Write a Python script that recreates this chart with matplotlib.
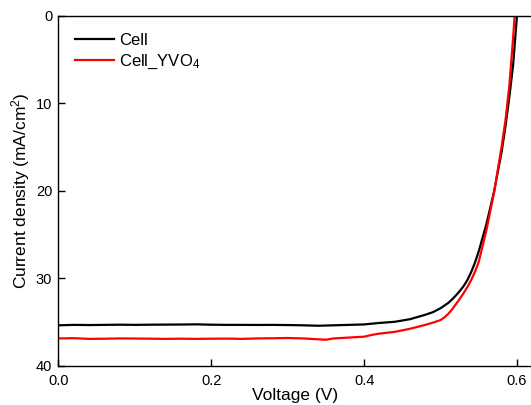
import matplotlib
matplotlib.use('Agg')
import matplotlib.pyplot as plt

plt.rcParams['font.family'] = ['Liberation Sans', 'DejaVu Sans']
plt.rcParams['mathtext.fontset'] = 'custom'
plt.rcParams['mathtext.rm'] = 'Liberation Sans'
plt.rcParams['mathtext.it'] = 'Liberation Sans'

# J-V data (voltage in V, current density in mA/cm2)
v_cell = [0.00, 0.02, 0.04, 0.06, 0.08, 0.10, 0.12, 0.14, 0.16, 0.18,
          0.20, 0.22, 0.24, 0.26, 0.28, 0.30, 0.32, 0.34, 0.36, 0.38,
          0.40, 0.42, 0.44, 0.46, 0.48, 0.49, 0.50, 0.505, 0.51, 0.515,
          0.52, 0.525, 0.53, 0.535, 0.54, 0.545, 0.55, 0.56, 0.57, 0.58,
          0.585, 0.59, 0.595, 0.600, 0.603]
j_cell = [35.35, 35.30, 35.32, 35.30, 35.28, 35.30, 35.28, 35.27, 35.26, 35.24,
          35.28, 35.30, 35.30, 35.31, 35.30, 35.32, 35.35, 35.40, 35.35, 35.30,
          35.25, 35.08, 34.95, 34.65, 34.15, 33.85, 33.40, 33.10, 32.80, 32.40,
          31.95, 31.45, 30.90, 30.20, 29.30, 28.20, 26.90, 23.8, 20.1, 15.5,
          12.6, 9.3, 5.6, 0.0, -3.0]

v_yvo4 = [0.00, 0.02, 0.04, 0.06, 0.08, 0.10, 0.12, 0.14, 0.16, 0.18,
          0.20, 0.22, 0.24, 0.26, 0.28, 0.30, 0.32, 0.34, 0.35, 0.36,
          0.38, 0.40, 0.41, 0.42, 0.44, 0.46, 0.48, 0.49, 0.50, 0.505,
          0.51, 0.515, 0.52, 0.525, 0.53, 0.535, 0.54, 0.545, 0.55, 0.56,
          0.57, 0.58, 0.585, 0.59, 0.595, 0.597, 0.600]
j_yvo4 = [36.85, 36.82, 36.90, 36.88, 36.85, 36.86, 36.88, 36.90, 36.88, 36.90,
          36.88, 36.87, 36.90, 36.85, 36.83, 36.80, 36.85, 36.95, 37.00, 36.85,
          36.75, 36.65, 36.45, 36.30, 36.10, 35.75, 35.30, 35.05, 34.75, 34.45,
          34.05, 33.55, 32.95, 32.35, 31.70, 31.00, 30.20, 29.25, 28.10, 24.5,
          20.2, 14.9, 11.9, 8.0, 2.5, 0.0, -3.0]

fig = plt.figure(figsize=(5.31, 4.05), dpi=100)
ax = fig.add_axes([0.110, 0.0963, 0.890, 0.8642])

ax.plot(v_cell, j_cell, color='black', lw=1.6, label='Cell')
ax.plot(v_yvo4, j_yvo4, color='red', lw=1.6, label='Cell_YVO$_4$')

ax.set_xlim(0, 0.6184)
ax.set_ylim(40, 0)
ax.set_xticks([0.0, 0.2, 0.4, 0.6])
ax.set_yticks([0, 10, 20, 30, 40])
ax.tick_params(direction='in', length=5, width=1, labelsize=10.5)
ax.tick_params(axis='x', pad=5.5)
ax.tick_params(axis='y', pad=4.5)
ax.spines['right'].set_visible(False)
for s in ['left', 'bottom', 'top']:
    ax.spines[s].set_linewidth(1)

ax.set_xlabel('Voltage (V)', fontsize=12.5, labelpad=0)
ax.set_ylabel('Current density (mA/cm$^2$)', fontsize=12.5, labelpad=3)

ax.legend(loc='upper left', frameon=False, fontsize=12, handlelength=2.35,
          handletextpad=0.3, labelspacing=0.3, borderaxespad=0.6,
          borderpad=0.4)

fig.savefig('out.png', dpi=100)
